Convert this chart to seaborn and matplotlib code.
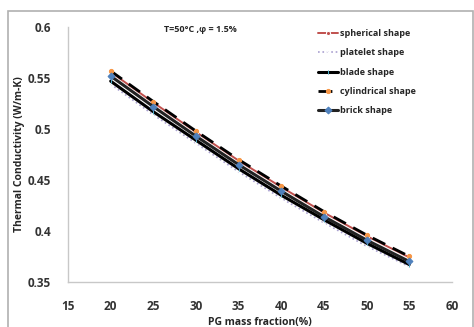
import pandas as pd
import numpy as np
import seaborn as sns
import matplotlib.pyplot as plt
from matplotlib.patches import Rectangle

mass_fraction = [20, 25, 30, 35, 40, 45, 50, 55]
spherical = [0.556, 0.526, 0.497, 0.469, 0.443, 0.418, 0.395, 0.374]
platelet = [0.544, 0.514, 0.486, 0.458, 0.432, 0.408, 0.385, 0.365]
blade = [0.547, 0.517, 0.489, 0.461, 0.435, 0.411, 0.388, 0.367]
cylindrical = [0.557, 0.527, 0.498, 0.470, 0.444, 0.419, 0.396, 0.375]
brick = [0.552, 0.522, 0.493, 0.465, 0.439, 0.414, 0.391, 0.370]

series = {
    "spherical shape": spherical,
    "platelet shape": platelet,
    "blade shape": blade,
    "cylindrical shape": cylindrical,
    "brick shape": brick,
}

sns.set_style("white")
plt.rcParams["font.family"] = ["Open Sans", "DejaVu Sans"]

fig = plt.figure(figsize=(4.74, 3.27), dpi=100)
ax = fig.add_axes([0.1435, 0.138, 0.81, 0.779])

# outer chart border
fig.patches.append(Rectangle((0.017, -0.01), 0.98, 0.975, transform=fig.transFigure,
                             fill=False, edgecolor="#b0b0b0", linewidth=1.2))

styles = {
    "spherical shape": dict(color="#c0504d", linestyle="-", marker="o", markersize=3, linewidth=1.4),
    "platelet shape": dict(color="#a9a0d0", linestyle=":", marker="x", markersize=3, linewidth=1.2),
    "blade shape": dict(color="black", linestyle="-", marker="|", markersize=3, linewidth=2.2, markeredgecolor="#4bacc6"),
    "cylindrical shape": dict(color="black", linestyle=(0, (5, 3)), marker="o", markersize=3, linewidth=2.0,
                              markerfacecolor="#f79646", markeredgecolor="#f79646"),
    "brick shape": dict(color="#222222", linestyle="-", marker="D", markersize=3.5, linewidth=2.2,
                        markerfacecolor="#4f81bd", markeredgecolor="#4f81bd"),
}

for name, vals in series.items():
    df = pd.DataFrame({"x": mass_fraction, "y": vals})
    sns.lineplot(data=df, x="x", y="y", ax=ax, label=name, **styles[name])

ax.set_xlim(15, 60)
ax.set_ylim(0.35, 0.6)
ax.set_xticks(range(15, 61, 5))
ax.set_yticks([0.35, 0.4, 0.45, 0.5, 0.55, 0.6])
ax.set_yticklabels(["0.35", "0.4", "0.45", "0.5", "0.55", "0.6"])
for s in ["top", "right"]:
    ax.spines[s].set_visible(False)
for s in ["left", "bottom"]:
    ax.spines[s].set_color("#c8c8c8")
    ax.spines[s].set_linewidth(1)
ax.tick_params(axis="x", length=0, labelsize=8.5, pad=13)
ax.tick_params(axis="y", length=0, labelsize=8.5, pad=12)
for lab in ax.get_xticklabels() + ax.get_yticklabels():
    lab.set_fontweight("bold")
    lab.set_color("#333333")

ax.set_xlabel("PG mass fraction(%)", fontsize=7.5, fontweight="bold", labelpad=3)
ax.set_ylabel("Thermal Conductivity (W/m-K)", fontsize=7.5, fontweight="bold", labelpad=2)

ax.text(0.345, 0.99, "T=50°C ,φ = 1.5%", transform=ax.transAxes, fontsize=6.5,
        fontweight="bold", ha="center", va="center")

leg = ax.legend(loc="upper left", bbox_to_anchor=(0.63, 1.025), frameon=False,
                fontsize=6.5, handlelength=2.2, handletextpad=0.2, labelspacing=1.15)
for t in leg.get_texts():
    t.set_fontweight("bold")

fig.savefig("out.png", dpi=100)
